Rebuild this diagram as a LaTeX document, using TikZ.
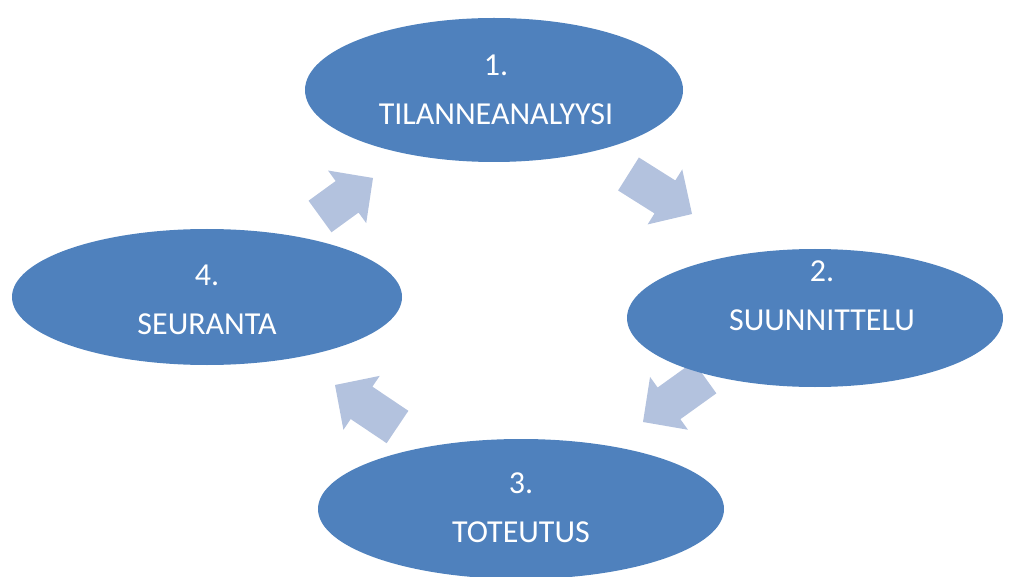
\documentclass[tikz,border=0pt]{standalone}
\usepackage{fontspec}
\setmainfont{Carlito}
\usetikzlibrary{shapes.geometric,calc}
\definecolor{ellblue}{RGB}{79,129,189}
\definecolor{arrblue}{RGB}{179,194,222}
\tikzset{
  stage/.style={ellipse, fill=ellblue, draw=none, inner sep=0pt},
  stagetext/.style={text=white, inner sep=0pt, align=center,
    font=\fontsize{32}{49}\selectfont},
  blockarrow/.style={fill=arrblue, draw=none}
}
\newcommand\blockarr[3]{%
  \coordinate (#3t) at #1;
  \coordinate (#3h) at #2;
  \coordinate (#3b) at ($(#3h)!32pt!(#3t)$);
  \fill[blockarrow]
    ($(#3t)!19.5pt!90:(#3h)$) -- ($(#3b)!19.5pt!-90:(#3t)$) --
    ($(#3b)!32.5pt!-90:(#3t)$) -- (#3h) --
    ($(#3b)!32.5pt!90:(#3t)$) -- ($(#3b)!19.5pt!90:(#3t)$) --
    ($(#3t)!19.5pt!-90:(#3h)$) -- cycle;
}
\begin{document}
\begin{tikzpicture}[x=1pt,y=-1pt]
\useasboundingbox (0,0) rectangle (1014,577);
\blockarr{(320,216.5)}{(373,178)}{a1}
\blockarr{(628.5,174)}{(692,214)}{a2}
\blockarr{(705,377.5)}{(643,422)}{a3}
\blockarr{(397.5,427)}{(335,385)}{a4}
\node[stage, minimum width=378pt, minimum height=144pt] (e1) at (494,90) {};
\node[stage, minimum width=376pt, minimum height=138pt] (e2) at (815,318) {};
\node[stage, minimum width=406pt, minimum height=140pt] (e3) at (521,509) {};
\node[stage, minimum width=390pt, minimum height=136pt] (e4) at (207,297) {};
\node[stagetext, anchor=base] (e1t) at ($(e1.center)+(2,35)$) {1.\\TILANNEANALYYSI};
\node[stagetext, anchor=base] (e2t) at ($(e2.center)+(7,12)$) {2.\\SUUNNITTELU};
\node[stagetext, anchor=base] (e3t) at ($(e3.center)+(0,33)$) {3.\\TOTEUTUS};
\node[stagetext, anchor=base] (e4t) at ($(e4.center)+(0,37)$) {4.\\SEURANTA};
\end{tikzpicture}
\end{document}
